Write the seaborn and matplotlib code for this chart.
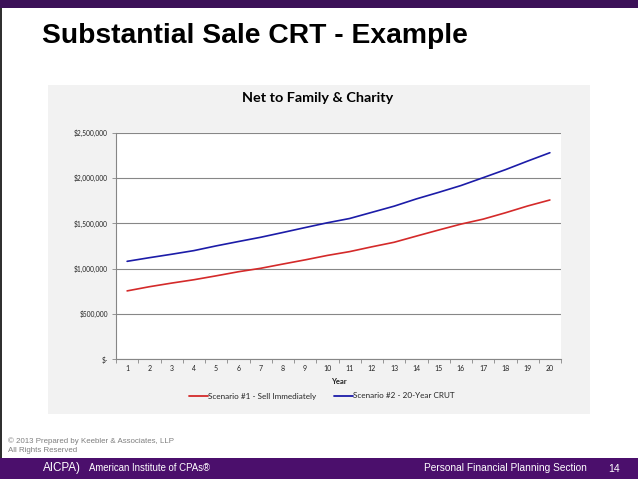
import matplotlib
matplotlib.use("Agg")
import matplotlib.pyplot as plt
from matplotlib.patches import Rectangle
from matplotlib.ticker import FixedLocator, FixedFormatter
import seaborn as sns
import pandas as pd

# ---- data ----
years = list(range(1, 21))
scenario1 = [754000, 800000, 840000, 877000, 920000, 965000, 1003000, 1050000, 1096000, 1145000,
             1187000, 1240000, 1290000, 1358000, 1425000, 1490000, 1545000, 1615000, 1690000, 1756000]
scenario2 = [1080000, 1120000, 1158000, 1198000, 1250000, 1298000, 1345000, 1398000, 1452000, 1505000,
             1552000, 1620000, 1688000, 1768000, 1840000, 1915000, 2002000, 2090000, 2185000, 2277000]
series_names = ["Scenario #1 - Sell Immediately", "Scenario #2 - 20-Year CRUT"]
y_ticks = [0, 500000, 1000000, 1500000, 2000000, 2500000]
y_tick_labels = ["$-", "$500,000", "$1,000,000", "$1,500,000", "$2,000,000", "$2,500,000"]
slide_title = "Substantial Sale CRT - Example"
chart_title = "Net to Family & Charity"
x_label = "Year"

df = pd.DataFrame({
    "Year": years * 2,
    "Value": scenario1 + scenario2,
    "Scenario": [series_names[0]] * len(years) + [series_names[1]] * len(years),
})

sns.set_theme(style="white")
plt.rcParams["font.family"] = ["Liberation Sans", "DejaVu Sans"]

W, H = 638, 479
fig = plt.figure(figsize=(W / 100, H / 100), dpi=100)
fig.patch.set_facecolor("white")

def fx(px):
    return px / W

def fy(py):
    return 1 - py / H

# slide decorations
fig.patches.append(Rectangle((0, fy(8)), 1, 8 / H, transform=fig.transFigure,
                             facecolor="#3c1158", edgecolor="none", zorder=-2))
fig.patches.append(Rectangle((0, fy(479)), 1, 21 / H, transform=fig.transFigure,
                             facecolor="#4b0f6c", edgecolor="none", zorder=-2))
fig.patches.append(Rectangle((0, fy(458)), 1.5 / W, 450 / H, transform=fig.transFigure,
                             facecolor="#303030", edgecolor="none", zorder=-2))
# chart area background
fig.patches.append(Rectangle((fx(48), fy(414)), fx(590 - 48), (414 - 85) / H,
                             transform=fig.transFigure, facecolor="#f2f2f2",
                             edgecolor="none", zorder=-2))

fig.text(fx(41.5), fy(42.7), slide_title, fontsize=20.3, fontweight="bold",
         color="black", va="baseline", ha="left", family=["Liberation Sans"])

ax = fig.add_axes([fx(116), fy(359.3), fx(561 - 116), (359.3 - 132.5) / H])
ax.set_zorder(1)
ax.set_facecolor("white")

palette = {series_names[0]: "#d42a2a", series_names[1]: "#1c1ca8"}
sns.lineplot(data=df, x="Year", y="Value", hue="Scenario", palette=palette,
             linewidth=1.2, ax=ax, legend=True)

ax.set_xlim(0.5, 20.5)
ax.set_ylim(0, 2500000)
ax.yaxis.set_major_locator(FixedLocator(y_ticks))
ax.yaxis.set_major_formatter(FixedFormatter(y_tick_labels))
ax.xaxis.set_major_locator(FixedLocator(years))
ax.xaxis.set_major_formatter(FixedFormatter([str(y) for y in years]))
ax.xaxis.set_minor_locator(FixedLocator([y + 0.5 for y in [0] + years]))
ax.tick_params(axis="x", which="major", length=0, pad=4, labelsize=5, colors="#222222")
ax.tick_params(axis="x", which="minor", length=3, width=0.6, color="#868686", direction="out", bottom=True)
ax.tick_params(axis="y", which="major", length=3, width=0.6, color="#868686", direction="out",
               left=True, pad=3, labelsize=4.8, labelcolor="#222222")
for lab in ax.get_xticklabels() + ax.get_yticklabels():
    lab.set_family(["Lato", "DejaVu Sans"])

ax.grid(axis="y", color="#878787", linewidth=0.8)
ax.grid(axis="x", visible=False)
for s in ["top", "right"]:
    ax.spines[s].set_visible(False)
for s in ["left", "bottom"]:
    ax.spines[s].set_color("#868686")
    ax.spines[s].set_linewidth(0.8)

ax.set_xlabel("")
ax.set_ylabel("")
fig.text(fx(338.5), fy(381), x_label, fontsize=5.5, fontweight="bold", ha="center", va="center",
         family=["Lato", "DejaVu Sans"], color="#222222")
fig.text(fx(318), fy(102), chart_title, fontsize=10.4, fontweight="bold", ha="center", va="baseline",
         family=["Lato", "DejaVu Sans"], color="black")

handles, labels = ax.get_legend_handles_labels()
ax.legend_.remove()
leg = fig.legend(handles, labels, loc="center", bbox_to_anchor=(fx(321.5), fy(396)), ncol=2,
                 frameon=False, handlelength=2.3, handletextpad=0.0,
                 columnspacing=2.2, prop={"family": ["Lato", "DejaVu Sans"], "size": 5.9})
for line in leg.get_lines():
    line.set_linewidth(1.3)

# footer
fig.text(fx(8.3), fy(440.7), "\u00a9 2013 Prepared by Keebler & Associates, LLP", fontsize=5.7,
         color="#7f7f7f", ha="left", va="center")
fig.text(fx(8.3), fy(450), "All Rights Reserved", fontsize=5.7, color="#7f7f7f", ha="left", va="center")
fig.text(fx(43), fy(468), "AICPA)", fontsize=8.4, color="white", ha="left", va="center")
fig.text(fx(89.3), fy(468), "American Institute of CPAs\u00ae", fontsize=6.9, color="white",
         ha="left", va="center")
fig.text(fx(587.3), fy(468), "Personal Financial Planning Section", fontsize=7.3, color="white",
         ha="right", va="center")
fig.text(fx(614.5), fy(468.5), "14", fontsize=7.5, color="white", ha="center", va="center")

fig.savefig("out.png", dpi=100)
